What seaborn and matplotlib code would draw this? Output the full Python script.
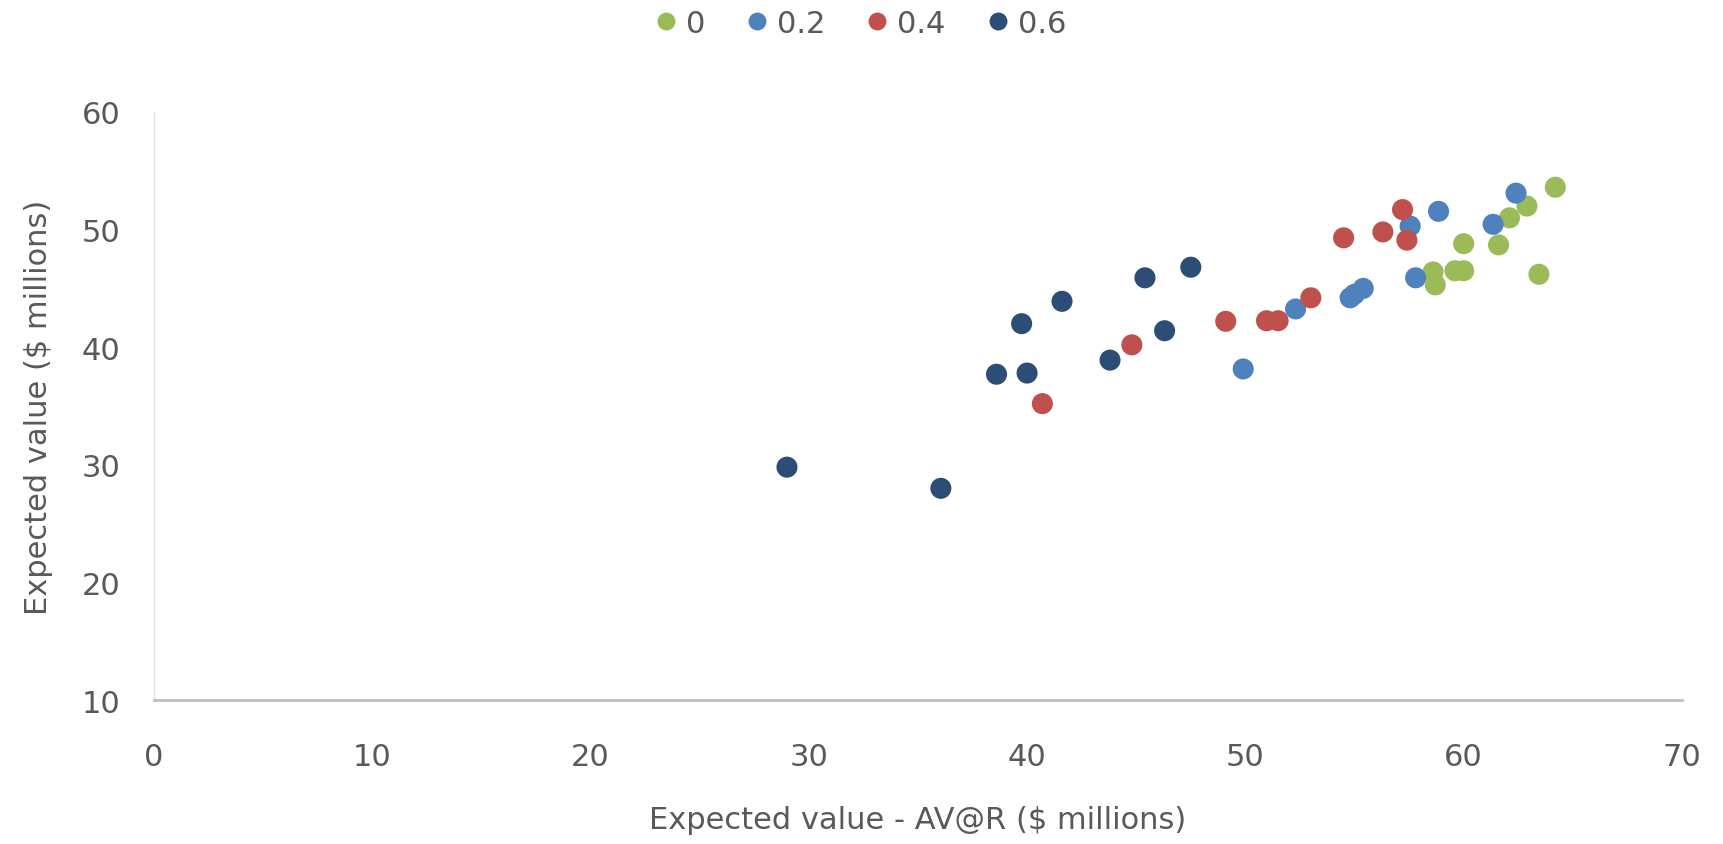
import pandas as pd
import seaborn as sns
import matplotlib.pyplot as plt

# Expected value - AV@R (x) and Expected value (y), $ millions, per weight
x_0 = [58.6, 58.7, 59.6, 60.0, 60.0, 61.6, 62.1, 62.9, 63.45, 64.2]
y_0 = [46.4, 45.3, 46.5, 46.5, 48.8, 48.7, 51.0, 52.0, 46.2, 53.6]

x_02 = [49.9, 52.3, 54.8, 55.0, 55.4, 57.55, 57.8, 58.85, 61.35, 62.4]
y_02 = [38.15, 43.25, 44.2, 44.5, 45.0, 50.3, 45.9, 51.55, 50.45, 53.1]

x_04 = [40.7, 44.8, 49.1, 50.97, 51.5, 53.0, 54.5, 56.3, 57.2, 57.4]
y_04 = [35.2, 40.2, 42.2, 42.25, 42.25, 44.2, 49.3, 49.8, 51.7, 49.1]

x_06 = [29.0, 36.05, 38.6, 40.0, 39.75, 41.6, 43.8, 45.4, 46.3, 47.5]
y_06 = [29.8, 28.0, 37.7, 37.8, 42.0, 43.9, 38.9, 45.9, 41.4, 46.8]

weights = ["0", "0.2", "0.4", "0.6"]
colors = ["#9BBB59", "#4F81BD", "#C0504D", "#2C4D75"]

rows = []
for w, xs, ys in zip(weights, [x_0, x_02, x_04, x_06], [y_0, y_02, y_04, y_06]):
    for a, b in zip(xs, ys):
        rows.append([w, a, b])
df = pd.DataFrame(rows, columns=["weight", "x", "y"])

sns.set_theme(style="white")
plt.rcParams["font.family"] = ["DejaVu Sans"]

fig = plt.figure(figsize=(17.24, 8.45), dpi=100)
ax = fig.add_axes([0.0893, 0.1704, 0.8863, 0.6959])

sns.scatterplot(data=df, x="x", y="y", hue="weight", hue_order=weights,
                palette=dict(zip(weights, colors)), s=230, linewidth=0,
                ax=ax, legend=True)

ax.set_xlim(0, 70)
ax.set_ylim(10, 60)
ax.set_xticks(range(0, 71, 10))
ax.set_yticks(range(10, 61, 10))
ax.tick_params(axis="both", length=0, labelsize=22, labelcolor="#595959")
ax.tick_params(axis="x", pad=30)
ax.tick_params(axis="y", pad=24)

for side in ["top", "right"]:
    ax.spines[side].set_visible(False)
ax.spines["bottom"].set_color("#BFBFBF")
ax.spines["bottom"].set_linewidth(2)
ax.spines["left"].set_color("#E0E0E0")
ax.spines["left"].set_linewidth(1)

ax.set_xlabel("Expected value - AV@R ($ millions)", fontsize=22, color="#595959")
ax.set_ylabel("Expected value ($ millions)", fontsize=22, color="#595959")
ax.xaxis.set_label_coords(0.5, -0.178)
ax.yaxis.set_label_coords(-0.066, 0.5)

ax.legend(loc="center", bbox_to_anchor=(0.461, 1.151), ncol=4, frameon=False,
          fontsize=22, labelcolor="#595959", handletextpad=0.15,
          handlelength=1.0, columnspacing=1.2, markerscale=0.85, title=None)

fig.savefig("out.png", dpi=100)
